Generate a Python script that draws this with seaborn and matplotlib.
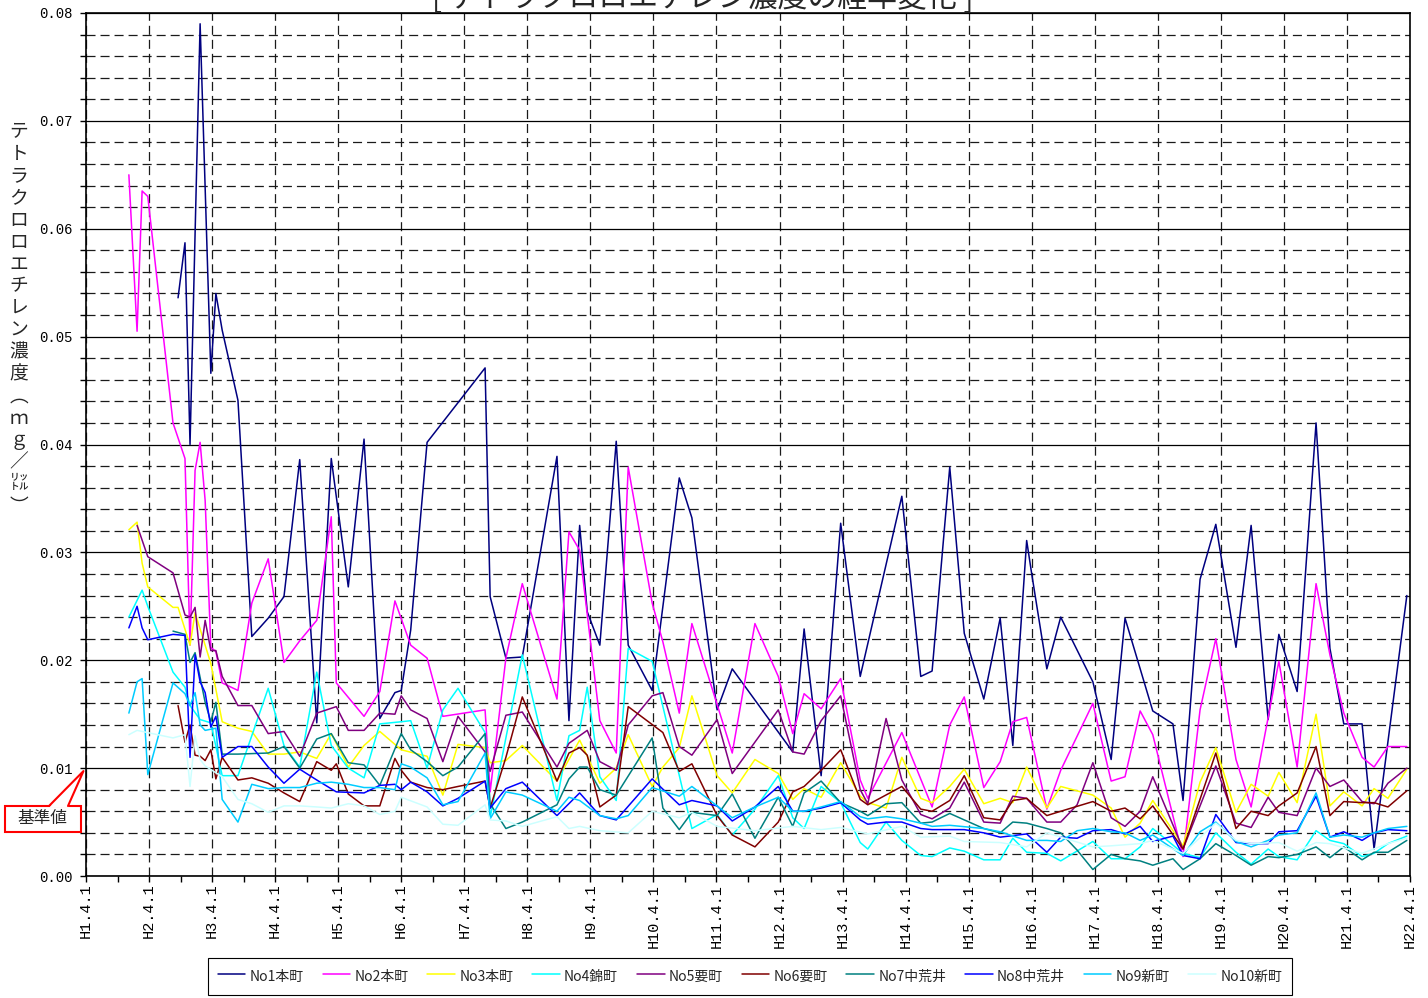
import numpy as np
import pandas as pd
import matplotlib
matplotlib.use("Agg")
import matplotlib.pyplot as plt
from matplotlib.patches import Rectangle, Polygon
from matplotlib.lines import Line2D
from matplotlib.ticker import MultipleLocator
import seaborn as sns

nan = np.nan

# Sampling dates, in years counted from H1.4.1
sample_years = [
    0.68, 0.81, 0.89, 0.98, 1.38, 1.46, 1.57, 1.65, 1.73, 1.81,
    1.89, 1.98, 2.06, 2.16, 2.41, 2.63, 2.89, 3.14, 3.39, 3.66,
    3.89, 3.97, 4.16, 4.41, 4.66, 4.90, 5.00, 5.15, 5.41, 5.66,
    5.90, 6.33, 6.41, 6.66, 6.92, 7.47, 7.66, 7.83, 7.95, 8.15,
    8.41, 8.60, 8.98, 9.15, 9.41, 9.61, 10.01, 10.25, 10.61, 10.98,
    11.21, 11.39, 11.66, 11.97, 12.28, 12.40, 12.69, 12.94, 13.24, 13.42,
    13.70, 13.93, 14.24, 14.50, 14.70, 14.92, 15.00, 15.24, 15.46, 15.72,
    15.97, 16.26, 16.48, 16.72, 16.92, 17.24, 17.40, 17.67, 17.92, 18.24,
    18.48, 18.75, 18.92, 19.21, 19.51, 19.73, 19.95, 20.24, 20.43, 20.65,
    20.95,
]

# Tetrachloroethylene concentration (mg/L) per well; nan = not measured
no1 = [
    nan, nan, nan, nan, nan, 0.0536, 0.0587, 0.0400, nan, 0.0790,
    nan, 0.0466, 0.0540, 0.0506, 0.0441, 0.0222, 0.0239, 0.0259, 0.0386, 0.0142,
    0.0387, nan, 0.0268, 0.0405, 0.0146, 0.0170, 0.0172, 0.0228, 0.0402, nan,
    nan, 0.0471, 0.0259, 0.0202, 0.0203, 0.0389, 0.0144, 0.0325, 0.0245, 0.0214,
    0.0403, 0.0214, 0.0172, nan, 0.0369, 0.0332, 0.0154, 0.0192, nan, nan,
    0.0115, 0.0229, 0.0093, 0.0327, 0.0185, nan, nan, 0.0352, 0.0185, 0.0190,
    0.0379, 0.0225, 0.0164, 0.0239, 0.0121, 0.0311, 0.0280, 0.0192, 0.0240, nan,
    0.0180, 0.0108, 0.0239, nan, 0.0153, 0.0141, 0.0070, 0.0275, 0.0326, 0.0212,
    0.0325, 0.0145, 0.0224, 0.0171, 0.0420, 0.0211, 0.0141, 0.0141, 0.0025, nan,
    0.0260,
]
no2 = [
    0.0650, 0.0505, 0.0635, 0.0630, 0.0420, nan, 0.0387, 0.0214, 0.0376, 0.0402,
    0.0348, 0.0212, 0.0208, 0.0179, 0.0172, 0.0253, 0.0294, 0.0198, 0.0218, 0.0237,
    0.0333, 0.0179, nan, 0.0148, 0.0171, 0.0255, nan, 0.0214, 0.0202, 0.0148,
    nan, 0.0154, 0.0078, 0.0202, 0.0271, 0.0164, 0.0319, 0.0302, nan, 0.0144,
    0.0114, 0.0379, 0.0253, 0.0217, 0.0151, 0.0234, nan, 0.0114, 0.0234, 0.0185,
    0.0132, 0.0169, 0.0155, 0.0183, 0.0089, 0.0072, nan, 0.0133, nan, 0.0064,
    0.0140, 0.0166, 0.0082, 0.0106, 0.0143, 0.0147, nan, 0.0062, 0.0098, nan,
    0.0160, 0.0088, 0.0092, 0.0153, 0.0131, nan, 0.0018, 0.0154, 0.0220, 0.0108,
    0.0064, nan, 0.0199, 0.0101, 0.0271, 0.0205, 0.0151, 0.0110, 0.0101, 0.0120,
    0.0120,
]
no3 = [
    0.0321, 0.0328, 0.0290, 0.0268, 0.0249, 0.0249, nan, 0.0214, 0.0244, nan,
    nan, 0.0197, nan, 0.0143, 0.0137, 0.0134, 0.0113, 0.0113, 0.0115, 0.0109,
    0.0132, nan, 0.0101, 0.0121, 0.0134, nan, 0.0117, nan, 0.0111, 0.0075,
    0.0122, 0.0119, 0.0105, 0.0107, 0.0121, 0.0088, nan, 0.0126, nan, 0.0086,
    0.0100, 0.0131, 0.0083, 0.0101, 0.0119, 0.0167, 0.0093, 0.0077, 0.0108, 0.0095,
    0.0071, 0.0081, 0.0073, 0.0105, 0.0074, 0.0068, 0.0063, 0.0110, 0.0072, 0.0068,
    0.0083, 0.0099, 0.0067, 0.0072, 0.0068, 0.0101, nan, 0.0063, 0.0083, nan,
    0.0075, 0.0063, 0.0036, 0.0049, 0.0070, nan, 0.0028, 0.0087, 0.0119, 0.0059,
    0.0085, 0.0074, 0.0096, 0.0068, 0.0150, 0.0065, 0.0078, 0.0065, 0.0081, 0.0072,
    0.0099,
]
no4 = [
    0.0240, nan, 0.0265, 0.0250, 0.0189, nan, 0.0175, 0.0158, nan, 0.0145,
    nan, 0.0142, nan, 0.0093, 0.0093, nan, 0.0174, 0.0121, 0.0101, 0.0189,
    0.0121, nan, 0.0100, 0.0091, 0.0141, nan, 0.0143, 0.0144, 0.0100, 0.0154,
    0.0174, 0.0133, 0.0054, nan, 0.0205, 0.0070, 0.0130, 0.0135, 0.0175, 0.0092,
    0.0070, 0.0211, 0.0199, nan, nan, 0.0044, 0.0057, 0.0038, 0.0062, 0.0093,
    0.0054, 0.0044, 0.0083, 0.0068, 0.0031, 0.0025, 0.0050, 0.0033, 0.0019, 0.0018,
    0.0026, 0.0023, 0.0015, 0.0015, 0.0035, 0.0022, nan, 0.0021, 0.0014, nan,
    0.0032, 0.0016, 0.0016, 0.0027, 0.0044, nan, 0.0021, 0.0017, 0.0040, 0.0022,
    0.0011, 0.0025, 0.0018, 0.0015, 0.0042, 0.0033, 0.0030, 0.0018, 0.0021, 0.0030,
    0.0037,
]
no5 = [
    nan, 0.0325, nan, 0.0296, 0.0281, nan, 0.0242, 0.0240, 0.0249, 0.0203,
    0.0237, 0.0209, 0.0209, 0.0185, 0.0158, 0.0158, 0.0132, 0.0134, 0.0111, 0.0151,
    nan, 0.0157, 0.0135, 0.0135, 0.0151, 0.0150, 0.0167, 0.0154, 0.0146, 0.0106,
    0.0148, 0.0115, 0.0097, 0.0149, 0.0152, 0.0101, 0.0123, nan, 0.0135, 0.0106,
    0.0098, 0.0140, 0.0167, 0.0170, 0.0120, 0.0112, 0.0145, 0.0095, nan, 0.0154,
    0.0115, 0.0113, 0.0144, 0.0167, 0.0080, 0.0067, 0.0146, 0.0089, 0.0057, 0.0053,
    0.0063, 0.0087, 0.0050, 0.0049, 0.0074, 0.0072, nan, 0.0050, 0.0050, 0.0066,
    0.0105, 0.0054, 0.0046, 0.0060, 0.0092, nan, 0.0025, nan, 0.0102, 0.0049,
    0.0045, 0.0073, 0.0059, 0.0056, 0.0100, 0.0083, 0.0089, 0.0069, 0.0067, 0.0086,
    0.0100,
]
no6 = [
    nan, nan, nan, nan, nan, 0.0158, 0.0124, 0.0140, 0.0112, 0.0111,
    0.0107, 0.0117, 0.0090, 0.0110, 0.0089, 0.0091, 0.0086, 0.0077, 0.0069, 0.0106,
    0.0098, 0.0104, 0.0076, 0.0065, 0.0065, 0.0109, 0.0098, 0.0087, 0.0082, 0.0080,
    0.0083, 0.0088, 0.0063, 0.0110, 0.0166, 0.0088, 0.0114, 0.0119, 0.0112, 0.0064,
    0.0075, 0.0157, nan, 0.0133, 0.0097, 0.0104, 0.0056, 0.0038, 0.0027, 0.0050,
    0.0078, 0.0083, 0.0098, 0.0117, 0.0071, 0.0066, nan, 0.0083, 0.0062, 0.0060,
    0.0070, 0.0093, 0.0054, 0.0052, 0.0070, 0.0072, nan, 0.0056, 0.0060, nan,
    0.0069, 0.0060, 0.0063, 0.0053, 0.0065, nan, 0.0025, nan, 0.0114, 0.0044,
    0.0060, 0.0056, 0.0065, 0.0077, 0.0120, 0.0056, 0.0069, 0.0068, 0.0068, 0.0064,
    0.0079,
]
no7 = [
    nan, nan, nan, nan, 0.0227, nan, 0.0224, 0.0198, 0.0207, nan,
    0.0161, 0.0143, 0.0161, 0.0113, 0.0113, nan, 0.0114, 0.0120, 0.0100, 0.0127,
    0.0132, nan, 0.0105, 0.0103, 0.0084, nan, 0.0132, 0.0117, 0.0106, 0.0093,
    0.0101, 0.0132, 0.0067, 0.0044, 0.0050, 0.0066, 0.0090, 0.0101, 0.0101, 0.0080,
    0.0075, nan, 0.0128, 0.0063, 0.0043, 0.0059, 0.0056, 0.0076, 0.0035, 0.0073,
    0.0046, 0.0077, 0.0088, 0.0068, 0.0060, 0.0056, 0.0067, 0.0068, 0.0049, 0.0050,
    0.0058, 0.0052, 0.0044, 0.0040, 0.0050, 0.0049, nan, 0.0044, 0.0040, 0.0024,
    0.0006, 0.0020, 0.0016, 0.0014, 0.0010, 0.0016, 0.0006, 0.0016, 0.0030, 0.0019,
    0.0010, 0.0018, 0.0017, 0.0020, 0.0027, 0.0017, 0.0027, 0.0015, 0.0022, 0.0022,
    0.0033,
]
no8 = [
    0.0230, 0.0250, 0.0230, 0.0219, 0.0224, nan, 0.0223, 0.0110, 0.0205, 0.0180,
    0.0170, 0.0138, 0.0148, 0.0110, 0.0120, 0.0120, 0.0101, 0.0086, 0.0099, 0.0089,
    nan, 0.0078, nan, 0.0077, 0.0084, 0.0085, 0.0080, 0.0087, 0.0078, 0.0065,
    0.0072, 0.0088, 0.0063, 0.0081, 0.0087, 0.0056, nan, 0.0077, nan, 0.0056,
    0.0052, nan, 0.0090, nan, 0.0066, 0.0070, 0.0065, 0.0051, 0.0064, 0.0083,
    0.0060, 0.0060, 0.0063, 0.0068, 0.0052, 0.0048, 0.0050, 0.0050, 0.0044, 0.0043,
    0.0043, 0.0043, 0.0040, 0.0036, nan, 0.0039, nan, 0.0022, 0.0036, 0.0035,
    0.0042, 0.0043, 0.0039, 0.0046, 0.0032, 0.0037, 0.0019, 0.0016, 0.0057, 0.0031,
    0.0030, 0.0030, 0.0041, 0.0042, 0.0074, 0.0036, 0.0041, 0.0033, 0.0040, 0.0043,
    0.0042,
]
no9 = [
    0.0151, 0.0180, 0.0183, 0.0094, 0.0179, nan, 0.0169, 0.0158, 0.0170, 0.0140,
    0.0135, nan, 0.0137, 0.0071, 0.0050, 0.0085, 0.0081, 0.0082, 0.0082, 0.0086,
    0.0087, nan, 0.0085, 0.0082, 0.0082, 0.0080, 0.0104, 0.0101, 0.0091, 0.0066,
    0.0069, 0.0114, 0.0053, 0.0078, 0.0075, 0.0060, 0.0073, 0.0070, nan, 0.0056,
    0.0053, 0.0056, 0.0082, nan, 0.0074, 0.0083, 0.0065, 0.0054, 0.0064, 0.0073,
    0.0060, 0.0060, 0.0064, 0.0069, 0.0055, 0.0053, 0.0055, 0.0053, 0.0049, 0.0046,
    0.0047, nan, 0.0044, 0.0041, nan, 0.0033, nan, 0.0033, 0.0032, 0.0042,
    0.0044, 0.0041, 0.0040, 0.0033, 0.0038, nan, 0.0019, 0.0041, 0.0050, 0.0032,
    0.0027, 0.0033, 0.0038, 0.0040, 0.0077, 0.0036, 0.0038, 0.0036, 0.0040, 0.0044,
    0.0046,
]
no10 = [
    0.0131, 0.0135, nan, nan, 0.0128, nan, 0.0131, 0.0083, 0.0130, 0.0108,
    0.0102, nan, nan, 0.0092, 0.0071, 0.0067, 0.0059, 0.0065, 0.0065, 0.0064,
    0.0063, nan, 0.0067, 0.0065, 0.0057, 0.0060, 0.0073, nan, 0.0064, 0.0048,
    0.0047, 0.0066, 0.0052, 0.0051, 0.0046, 0.0055, 0.0044, 0.0046, nan, 0.0042,
    nan, 0.0040, 0.0060, nan, 0.0054, 0.0059, 0.0046, nan, 0.0042, nan,
    0.0046, nan, 0.0043, 0.0045, nan, 0.0039, nan, 0.0046, 0.0036, nan,
    0.0037, 0.0032, nan, 0.0031, nan, 0.0027, nan, 0.0040, nan, nan,
    0.0027, 0.0028, nan, 0.0030, 0.0033, nan, 0.0021, nan, 0.0049, 0.0033,
    0.0030, nan, 0.0031, 0.0023, 0.0031, 0.0030, nan, 0.0021, nan, 0.0030,
    0.0035,
]

sites = ["No1本町", "No2本町", "No3本町", "No4錦町", "No5要町",
         "No6要町", "No7中荒井", "No8中荒井", "No9新町", "No10新町"]
site_colors = ["#000080", "#FF00FF", "#FFFF00", "#00FFFF", "#800080",
               "#800000", "#008080", "#0000FF", "#00CCFF", "#CCFFFF"]
series = [no1, no2, no3, no4, no5, no6, no7, no8, no9, no10]

x_labels = [f"H{n}.4.1" for n in range(1, 23)]
y_ticks = [0.00, 0.01, 0.02, 0.03, 0.04, 0.05, 0.06, 0.07, 0.08]
title_text = "[ テトラクロロエチレン濃度の経年変化 ]"
ylabel_chars = list("テトラクロロエチレン濃度︵ｍｇ／㍑︶")
limit_label = "基準値"
limit_value = 0.01

sns.set_theme(style="white")
plt.rcParams["font.family"] = ["Noto Sans CJK JP", "DejaVu Sans"]
plt.rcParams["lines.scale_dashes"] = False
plt.rcParams["axes.unicode_minus"] = False

frames = []
for name, vals in zip(sites, series):
    if len(vals) != len(sample_years):
        raise ValueError(f"{name}: {len(vals)} values")
    frames.append(pd.DataFrame({"year": sample_years, "conc": vals, "site": name}))
df = pd.concat(frames, ignore_index=True).dropna(subset=["conc"])

W, H = 1428, 998
fig = plt.figure(figsize=(W / 100, H / 100), dpi=100)
fig.patch.set_facecolor("white")
ax = fig.add_axes([86 / W, 1 - 876 / H, (1410 - 86) / W, (876 - 13) / H])

sns.lineplot(data=df, x="year", y="conc", hue="site", hue_order=sites,
             palette=dict(zip(sites, site_colors)), estimator=None, sort=True,
             linewidth=1.1, legend=False, ax=ax)

ax.set_xlim(0, 21)
ax.set_ylim(0, 0.08)
ax.set_xlabel("")
ax.set_ylabel("")

ax.set_xticks(range(22))
ax.set_xticklabels(x_labels, rotation=90, fontfamily="Liberation Mono", fontsize=11)
ax.xaxis.set_minor_locator(MultipleLocator(0.5))
ax.set_yticks(y_ticks)
ax.set_yticklabels([f"{v:.2f}" for v in y_ticks], fontfamily="Liberation Mono", fontsize=10)
ax.yaxis.set_minor_locator(MultipleLocator(0.002))

dash = (0, (6.5, 3.6))
ax.grid(which="major", axis="y", color="black", linewidth=0.9, linestyle="-")
ax.grid(which="minor", axis="y", color="#1a1a1a", linewidth=0.9, linestyle=dash)
ax.grid(which="major", axis="x", color="#1a1a1a", linewidth=0.9, linestyle=dash)
ax.set_axisbelow(True)

ax.tick_params(which="both", direction="out", length=4, width=1, color="black",
               left=True, bottom=True, labelcolor="black")
ax.tick_params(axis="y", which="both", pad=5.5)
ax.tick_params(axis="x", which="both", pad=1.5)
for sp in ax.spines.values():
    sp.set_visible(True)
    sp.set_color("black")
    sp.set_linewidth(1.2)

# Title, running off the top edge of the sheet
fig.text(703 / W, 1 - 7 / H, title_text, ha="center", va="baseline", fontsize=21.5)

# Vertical y-axis caption, one glyph per row
for i, ch in enumerate(ylabel_chars):
    fig.text(19 / W, 1 - (132 + 22 * i) / H, ch, ha="center", va="center", fontsize=13.5)

# Legend below the plot
handles = [Line2D([], [], color=c, linewidth=1.1) for c in site_colors]
leg = fig.legend(handles, sites, loc="upper center", bbox_to_anchor=(750 / W, 1 - 958 / H),
                 ncol=10, frameon=True, fancybox=False, edgecolor="black", framealpha=1,
                 fontsize=10, handlelength=2.0, handletextpad=0.3, columnspacing=1.35,
                 borderpad=0.7, handleheight=1.6, borderaxespad=0)
leg.get_frame().set_linewidth(0.8)

# Callout pointing at the 0.01 standard level
fig.canvas.draw()
tip = ax.transData.transform((0, limit_value * 0.973))
tip_fig = fig.transFigure.inverted().transform(tip)
tip_fig[0] -= 2.5 / W
bx0, by0, bw, bh = 5 / W, 1 - 832 / H, 76 / W, 26 / H
box = Rectangle((bx0, by0), bw, bh, transform=fig.transFigure, facecolor="white",
                edgecolor="red", linewidth=1.5, zorder=5)
fig.patches.append(box)
base_l = (49 / W, by0 + bh)
base_r = (68 / W, by0 + bh)
fill = Polygon([(base_l[0], base_l[1] - 1.5 / H), tuple(tip_fig), (base_r[0], base_r[1] - 1.5 / H)],
               closed=True, transform=fig.transFigure, facecolor="white", edgecolor="none", zorder=6)
fig.patches.append(fill)
outline = Line2D([base_l[0], tip_fig[0], base_r[0]], [base_l[1], tip_fig[1], base_r[1]],
                 transform=fig.transFigure, color="red", linewidth=1.5, zorder=7)
fig.lines.append(outline)
fig.text(42 / W, 1 - 819 / H, limit_label, ha="center", va="center", fontsize=12, zorder=8)

fig.savefig("out.png", dpi=100, facecolor="white")
